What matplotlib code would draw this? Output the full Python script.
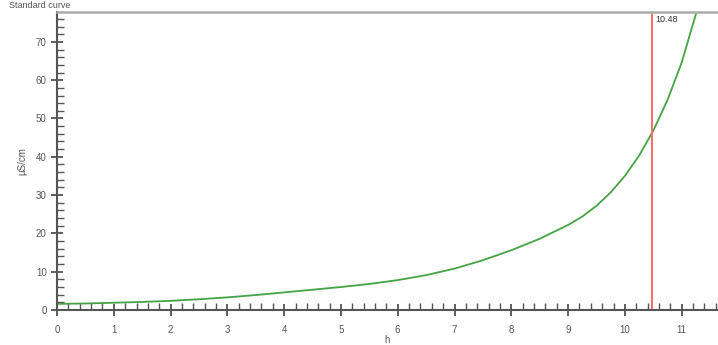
import numpy as np
import matplotlib.pyplot as plt
from matplotlib.ticker import MultipleLocator

# standard curve readings (h vs conductivity)
hours = [0, 0.5, 1, 1.5, 2, 2.5, 3, 3.5, 4, 4.5, 5, 5.5, 6, 6.5, 7, 7.5,
         8, 8.5, 9, 9.25, 9.5, 9.75, 10, 10.25, 10.5, 10.75, 11, 11.25]
cond = [1.6, 1.7, 1.9, 2.1, 2.4, 2.8, 3.3, 3.9, 4.6, 5.3, 6.0, 6.8, 7.8, 9.1,
        10.8, 13.0, 15.6, 18.6, 22.2, 24.4, 27.2, 30.7, 35.0, 40.3, 46.8,
        54.8, 64.6, 77.2]
marker_x = 10.48

plt.rcParams['font.family'] = ['Liberation Sans', 'DejaVu Sans']

fig = plt.figure(figsize=(7.18, 3.45), dpi=100)
ax = fig.add_axes([57 / 718, 1 - 310 / 345, 1 - 57 / 718, (310 - 12) / 345])

ax.plot(hours, cond, color='#45a345', lw=1.3)
ax.axvline(marker_x, color='#ff6b6b', lw=1.4)
ax.text(marker_x + 0.05, 77.0, f'{marker_x:.2f}', fontsize=6.5,
        color='#333333', va='top', ha='left')

ax.set_xlim(0, 11.64)
ax.set_ylim(0, 77.8)
ax.xaxis.set_major_locator(MultipleLocator(1))
ax.xaxis.set_minor_locator(MultipleLocator(0.2))
ax.yaxis.set_major_locator(MultipleLocator(10))
ax.yaxis.set_minor_locator(MultipleLocator(2))
ax.tick_params(which='major', direction='inout', length=9, width=1.2,
               color='#444444', labelsize=7, labelcolor='#555555', pad=3)
ax.tick_params(which='minor', direction='in', length=5, width=1.0,
               color='#555555')
ax.tick_params(axis='x', which='major', pad=6)

for side in ('left', 'bottom'):
    ax.spines[side].set_color('#555555')
    ax.spines[side].set_linewidth(1.5)
ax.spines['top'].set_color('#aaaaaa')
ax.spines['top'].set_linewidth(1.8)
ax.spines['right'].set_visible(False)

ax.set_xlabel('h', fontsize=7, color='#555555', labelpad=0)
ax.set_ylabel('µS/cm', fontsize=7, color='#555555', labelpad=6)

fig.text(0.012, 0.998, 'Standard curve', fontsize=6.5, color='#555555',
         va='top', ha='left')

fig.savefig('out.png', dpi=100)
